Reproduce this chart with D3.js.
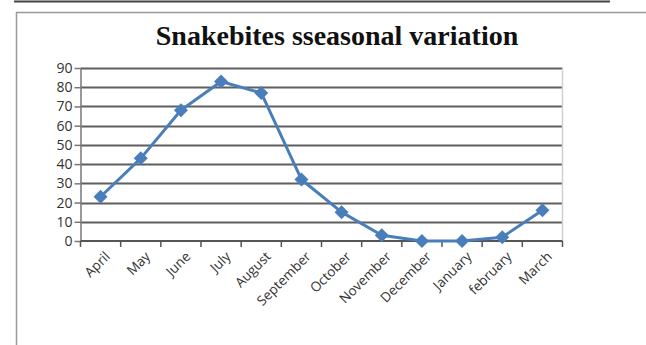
<!DOCTYPE html>
<html><head><meta charset="utf-8">
<script src="https://cdn.jsdelivr.net/npm/d3@7"></script>
<style>body{margin:0;background:#fff}svg{display:block}</style>
</head><body>
<svg id="c" width="646" height="345"></svg>
<script>
const months = ["April","May","June","July","August","September","October","November","December","January","february","March"];
const bites = [23,43,68,83,77,32,15,3,0,0,2,16];
const yTicks = [0,10,20,30,40,50,60,70,80,90];
const title = "Snakebites sseasonal variation";

const svg = d3.select("#c");
// page decorations
svg.append("line").attr("x1",14).attr("x2",610).attr("y1",1.5).attr("y2",1.5).attr("stroke","#444").attr("stroke-width",2);
svg.append("line").attr("x1",16).attr("x2",646).attr("y1",12.5).attr("y2",12.5).attr("stroke","#999").attr("stroke-width",1.5);
svg.append("line").attr("x1",16.5).attr("x2",16.5).attr("y1",12).attr("y2",345).attr("stroke","#999").attr("stroke-width",1.5);

const L=80.5, R=562.5, T=68, B=241;
const x = d3.scaleBand().domain(months).range([L,R]);
const y = d3.scaleLinear().domain([0,90]).range([B,T]);

svg.append("text").attr("x",337).attr("y",45).attr("text-anchor","middle")
  .attr("font-family","'Liberation Serif','Times New Roman',serif").attr("font-weight","bold")
  .attr("font-size",28).attr("fill","#111").text(title);

// gridlines
svg.append("g").selectAll("line").data(yTicks.filter(d=>d>0)).join("line")
  .attr("x1",L).attr("x2",R).attr("y1",d=>Math.round(y(d))+0.5).attr("y2",d=>Math.round(y(d))+0.5)
  .attr("stroke","#5e5e5e").attr("stroke-width",2);
// right border
svg.append("line").attr("x1",R).attr("x2",R).attr("y1",T).attr("y2",B).attr("stroke","#d0d0d0").attr("stroke-width",1.5);

// y axis
const ya = svg.append("g").attr("transform",`translate(${L},0)`)
  .call(d3.axisLeft(y).tickValues(yTicks).tickSize(6).tickSizeOuter(0).tickPadding(2));
ya.select(".domain").attr("stroke","#777").attr("stroke-width",1.5);
ya.selectAll(".tick line").attr("stroke","#777").attr("stroke-width",1.5);
ya.selectAll("text").attr("font-family","'Open Sans',sans-serif").attr("font-size",14).attr("fill","#333");

// x axis
const xa = svg.append("g").attr("transform",`translate(0,${B})`);
xa.append("line").attr("x1",L).attr("x2",R).attr("y1",0).attr("y2",0).attr("stroke","#555").attr("stroke-width",2);
const bounds = months.map(m=>x(m)).concat([R]);
xa.selectAll("line.t").data(bounds).join("line").attr("class","t")
  .attr("x1",d=>d).attr("x2",d=>d).attr("y1",0).attr("y2",6).attr("stroke","#555").attr("stroke-width",1.5);
xa.selectAll("text").data(months).join("text")
  .attr("transform",d=>`translate(${x(d)+x.bandwidth()/2+7},${13}) rotate(-45)`)
  .attr("text-anchor","end").attr("dy","0.35em")
  .attr("font-family","'Open Sans',sans-serif").attr("font-size",13.5).attr("fill","#333").text(d=>d);

// line
const cx = d=>x(d)+x.bandwidth()/2;
svg.append("path").datum(months.map((m,i)=>[cx(m),y(bites[i])]))
  .attr("d",d3.line()).attr("fill","none").attr("stroke","#4a7ebb").attr("stroke-width",3).attr("stroke-linejoin","round");
svg.append("g").selectAll("path").data(months).join("path")
  .attr("transform",(m,i)=>`translate(${cx(m)},${y(bites[i])}) rotate(45)`)
  .attr("d",d3.symbol(d3.symbolSquare,98)).attr("fill","#4a7ebb");
</script>
</body></html>
